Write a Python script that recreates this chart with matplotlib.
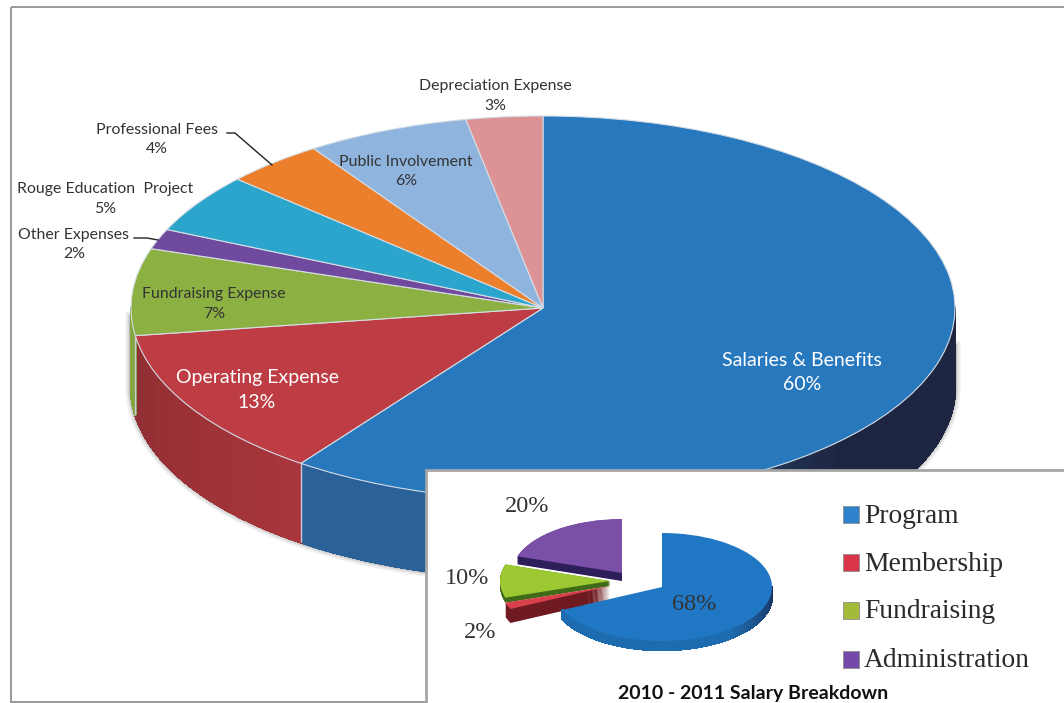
import numpy as np
import matplotlib
matplotlib.use("Agg")
import matplotlib.pyplot as plt
from matplotlib.collections import PolyCollection
from matplotlib.patches import Rectangle
from matplotlib.colors import to_rgb

W, H = 1064, 703

main_labels = ["Salaries & Benefits", "Operating Expense", "Fundraising Expense", "Other Expenses",
               "Rouge Education  Project", "Professional Fees", "Public Involvement", "Depreciation Expense"]
main_values = [60, 12.7, 7.3, 1.7, 5, 3.9, 6.4, 3]
main_top = ["#2878BE", "#BE3C44", "#8DB043", "#6F4A9E", "#2BA5CB", "#EC7F2C", "#8FB4DE", "#DD9296"]
main_wall_a = ["#1E2540", "#A8353B", "#7D9E3B"] + ["#6F4A9E"] * 5
main_wall_b = ["#2A6199", "#8F2F33", "#86A83F"] + ["#6F4A9E"] * 5

inset_labels = ["Program", "Membership", "Fundraising", "Administration"]
inset_values = [68, 2, 10, 20]
inset_top = ["#2077C4", "#D8414B", "#9CC832", "#7A4FA8"]
inset_wall = ["#1A6AAE", "#6E1A20", "#3F6A18", "#2E1E5A"]
inset_text = ["68%", "2%", "10%", "20%"]
legend_colors = ["#2F82CC", "#D9364A", "#A2BC3A", "#7449A8"]
inset_title = "2010 - 2011 Salary Breakdown"

fig = plt.figure(figsize=(W / 100, H / 100), dpi=100, facecolor="white")


def overlay(z):
    a = fig.add_axes([0, 0, 1, 1], zorder=z, facecolor="none")
    a.set_xlim(0, W)
    a.set_ylim(H, 0)
    a.axis("off")
    return a


def ellipse_axes(cx, cy, rx, ry, z):
    return fig.add_axes([(cx - rx) / W, 1 - (cy + ry) / H, 2 * rx / W, 2 * ry / H],
                        zorder=z, facecolor="none")


def finish(a):
    a.set_aspect("auto")
    a.set_xlim(-1, 1)
    a.set_ylim(-1, 1)
    a.axis("off")
    for art in a.get_children():
        art.set_clip_on(False)


def wall(a, ox, oy, t0, t1, depth, c0, c1, ramp=(0.0, 1.0), z=1, n=120):
    th = np.radians(np.linspace(t0, t1, n + 1))
    c0, c1 = np.array(to_rgb(c0)), np.array(to_rgb(c1))
    polys, cols = [], []
    for i in range(n):
        x0, x1 = ox + np.sin(th[i]), ox + np.sin(th[i + 1])
        y0, y1 = oy + np.cos(th[i]), oy + np.cos(th[i + 1])
        polys.append([(x0, y0), (x1, y1), (x1, y1 - depth), (x0, y0 - depth)])
        f = np.clip((i / (n - 1) - ramp[0]) / (ramp[1] - ramp[0]), 0, 1)
        cols.append(c0 + (c1 - c0) * f)
    a.add_collection(PolyCollection(polys, facecolors=cols, edgecolors=cols, linewidths=1.2,
                                    antialiaseds=False, clip_on=False, zorder=z))


# outer frame
bg = overlay(0)
bg.add_patch(Rectangle((11, 7), W, 695, fill=False, ec="#999999", lw=1.4, clip_on=False))

# main pie
MCX, MCY, MRX, MRY, MD = 543, 308, 412, 192, 79
ax = ellipse_axes(MCX, MCY, MRX, MRY, 1)
d = MD / MRY

# soft shadow round the rim
for t0, t1, top_x in [(188, 270, -1), (150, 90, 1)]:
    th = np.radians(np.linspace(t0, t1, 120))
    sx = np.r_[np.sin(th), top_x]
    sy = np.r_[np.cos(th) - d, -0.05 if top_x < 0 else -0.2]
    for lw, al in [(8, 0.09), (5, 0.14), (2.5, 0.28)]:
        ax.plot(sx, sy, color="#555555", lw=lw, alpha=al, zorder=0.5)

edges = 360 * np.cumsum([0] + main_values) / sum(main_values)
for i, (v0, v1) in enumerate(zip(edges[:-1], edges[1:])):
    lo, hi = max(v0, 90), min(v1, 270)
    if hi > lo:
        ramp = (0.35, 0.75) if i == 0 else (0.0, 1.0)
        wall(ax, 0, 0, lo, hi, d, main_wall_a[i], main_wall_b[i], ramp=ramp)
    if 90 < v1 < 270:
        s, c = np.sin(np.radians(v1)), np.cos(np.radians(v1))
        ax.plot([s, s], [c, c - d], color="#C9CDD6", lw=1.0, solid_capstyle="butt", zorder=1.5)
wedges, _ = ax.pie(main_values, colors=main_top, startangle=90, counterclock=False, radius=1,
                   wedgeprops=dict(edgecolor="#D5DDE5", linewidth=0.8, zorder=2))
finish(ax)

# inset panel
ov = overlay(2)
ov.add_patch(Rectangle((425.5, 470), W, H, fc="white", ec="#A6A6A6", lw=2, clip_on=False))

# inset pie
ICX, ICY, IRX, IRY = 627, 576, 110, 54
ax2 = ellipse_axes(ICX, ICY, IRX, IRY, 3)
slice_px = [(662, 587), (610, 586), (610, 581), (622, 573)]
slice_dep = [9, 14, 5, 8]
slice_z = [4, 3, 2, 1]
slice_off = [((px - ICX) / IRX, (ICY - py) / IRY) for px, py in slice_px]
for k, fr in enumerate(np.linspace(1, 0.05, 14)):
    w2, _ = ax2.pie(inset_values, colors=inset_wall, startangle=90, counterclock=False, radius=1,
                    wedgeprops=dict(linewidth=0))
    for w, (ox, oy), dp, z, v in zip(w2, slice_off, slice_dep, slice_z, inset_values):
        w.set_center((ox, oy - fr * dp / IRY))
        w.set_zorder(z + k * 0.01)
        if z == 4:
            w.set_visible(False)
ie = 360 * np.cumsum([0] + inset_values) / sum(inset_values)
wall(ax2, slice_off[0][0], slice_off[0][1], 90, ie[1], slice_dep[0] / IRY, "#1A2C55", "#1E6CB0",
     ramp=(0.0, 0.35), z=4.3)
w3, _ = ax2.pie(inset_values, colors=inset_top, startangle=90, counterclock=False, radius=1,
                wedgeprops=dict(linewidth=0))
for w, (ox, oy), z in zip(w3, slice_off, slice_z):
    w.set_center((ox, oy))
    w.set_zorder(z + 0.5)
finish(ax2)

# text layer
tx = overlay(10)
F = ["Lato", "Open Sans", "DejaVu Sans"]
dark = "#333333"


def lab(x, y, s, size, color):
    tx.text(x, y, s, ha="center", va="center", fontsize=size, color=color, family=F)


label_pos = [(802, 360, 385), (257, 378, 403), (214, 294, 314), (74, 235, 254),
             (105, 189, 209), (157, 130, 149), (406, 162, 181), (495, 86, 106)]
for (x, y1, y2), name, v in zip(label_pos, main_labels, main_values):
    big = name in main_labels[:2]
    size = 14 if big else 11.4
    col = "white" if big else dark
    lab(x, y1, name, size, col)
    lab(x, y2, f"{round(v)}%", size, col)

tx.plot([227, 235, 272], [133, 133, 165], color="#222222", lw=1)
tx.plot([134, 147, 158], [238, 238, 240], color="#222222", lw=1)

S = ["Liberation Serif", "DejaVu Serif"]
for (x, y), s in zip([(694, 605), (480, 633), (467, 578), (527, 507)], inset_text):
    tx.text(x, y, s, ha="center", va="center", fontsize=17.5, color="#333333", family=S)

sq_y = [514.5, 562.5, 610.5, 659.5]
base_y = [523, 571, 618, 667]
for y, b, c, s in zip(sq_y, base_y, legend_colors, inset_labels):
    tx.add_patch(Rectangle((843, y - 8.5), 15.5, 17, fc=c, ec="#8E8E8E", lw=0.6))
    tx.text(864, b, s, ha="left", va="baseline", fontsize=19.8, color="#2A2A2A", family=S)

tx.text(753, 694, inset_title, ha="center", va="center", fontsize=14, fontweight="bold",
        color="#111111", family=F)

fig.savefig("out.png", dpi=100)
